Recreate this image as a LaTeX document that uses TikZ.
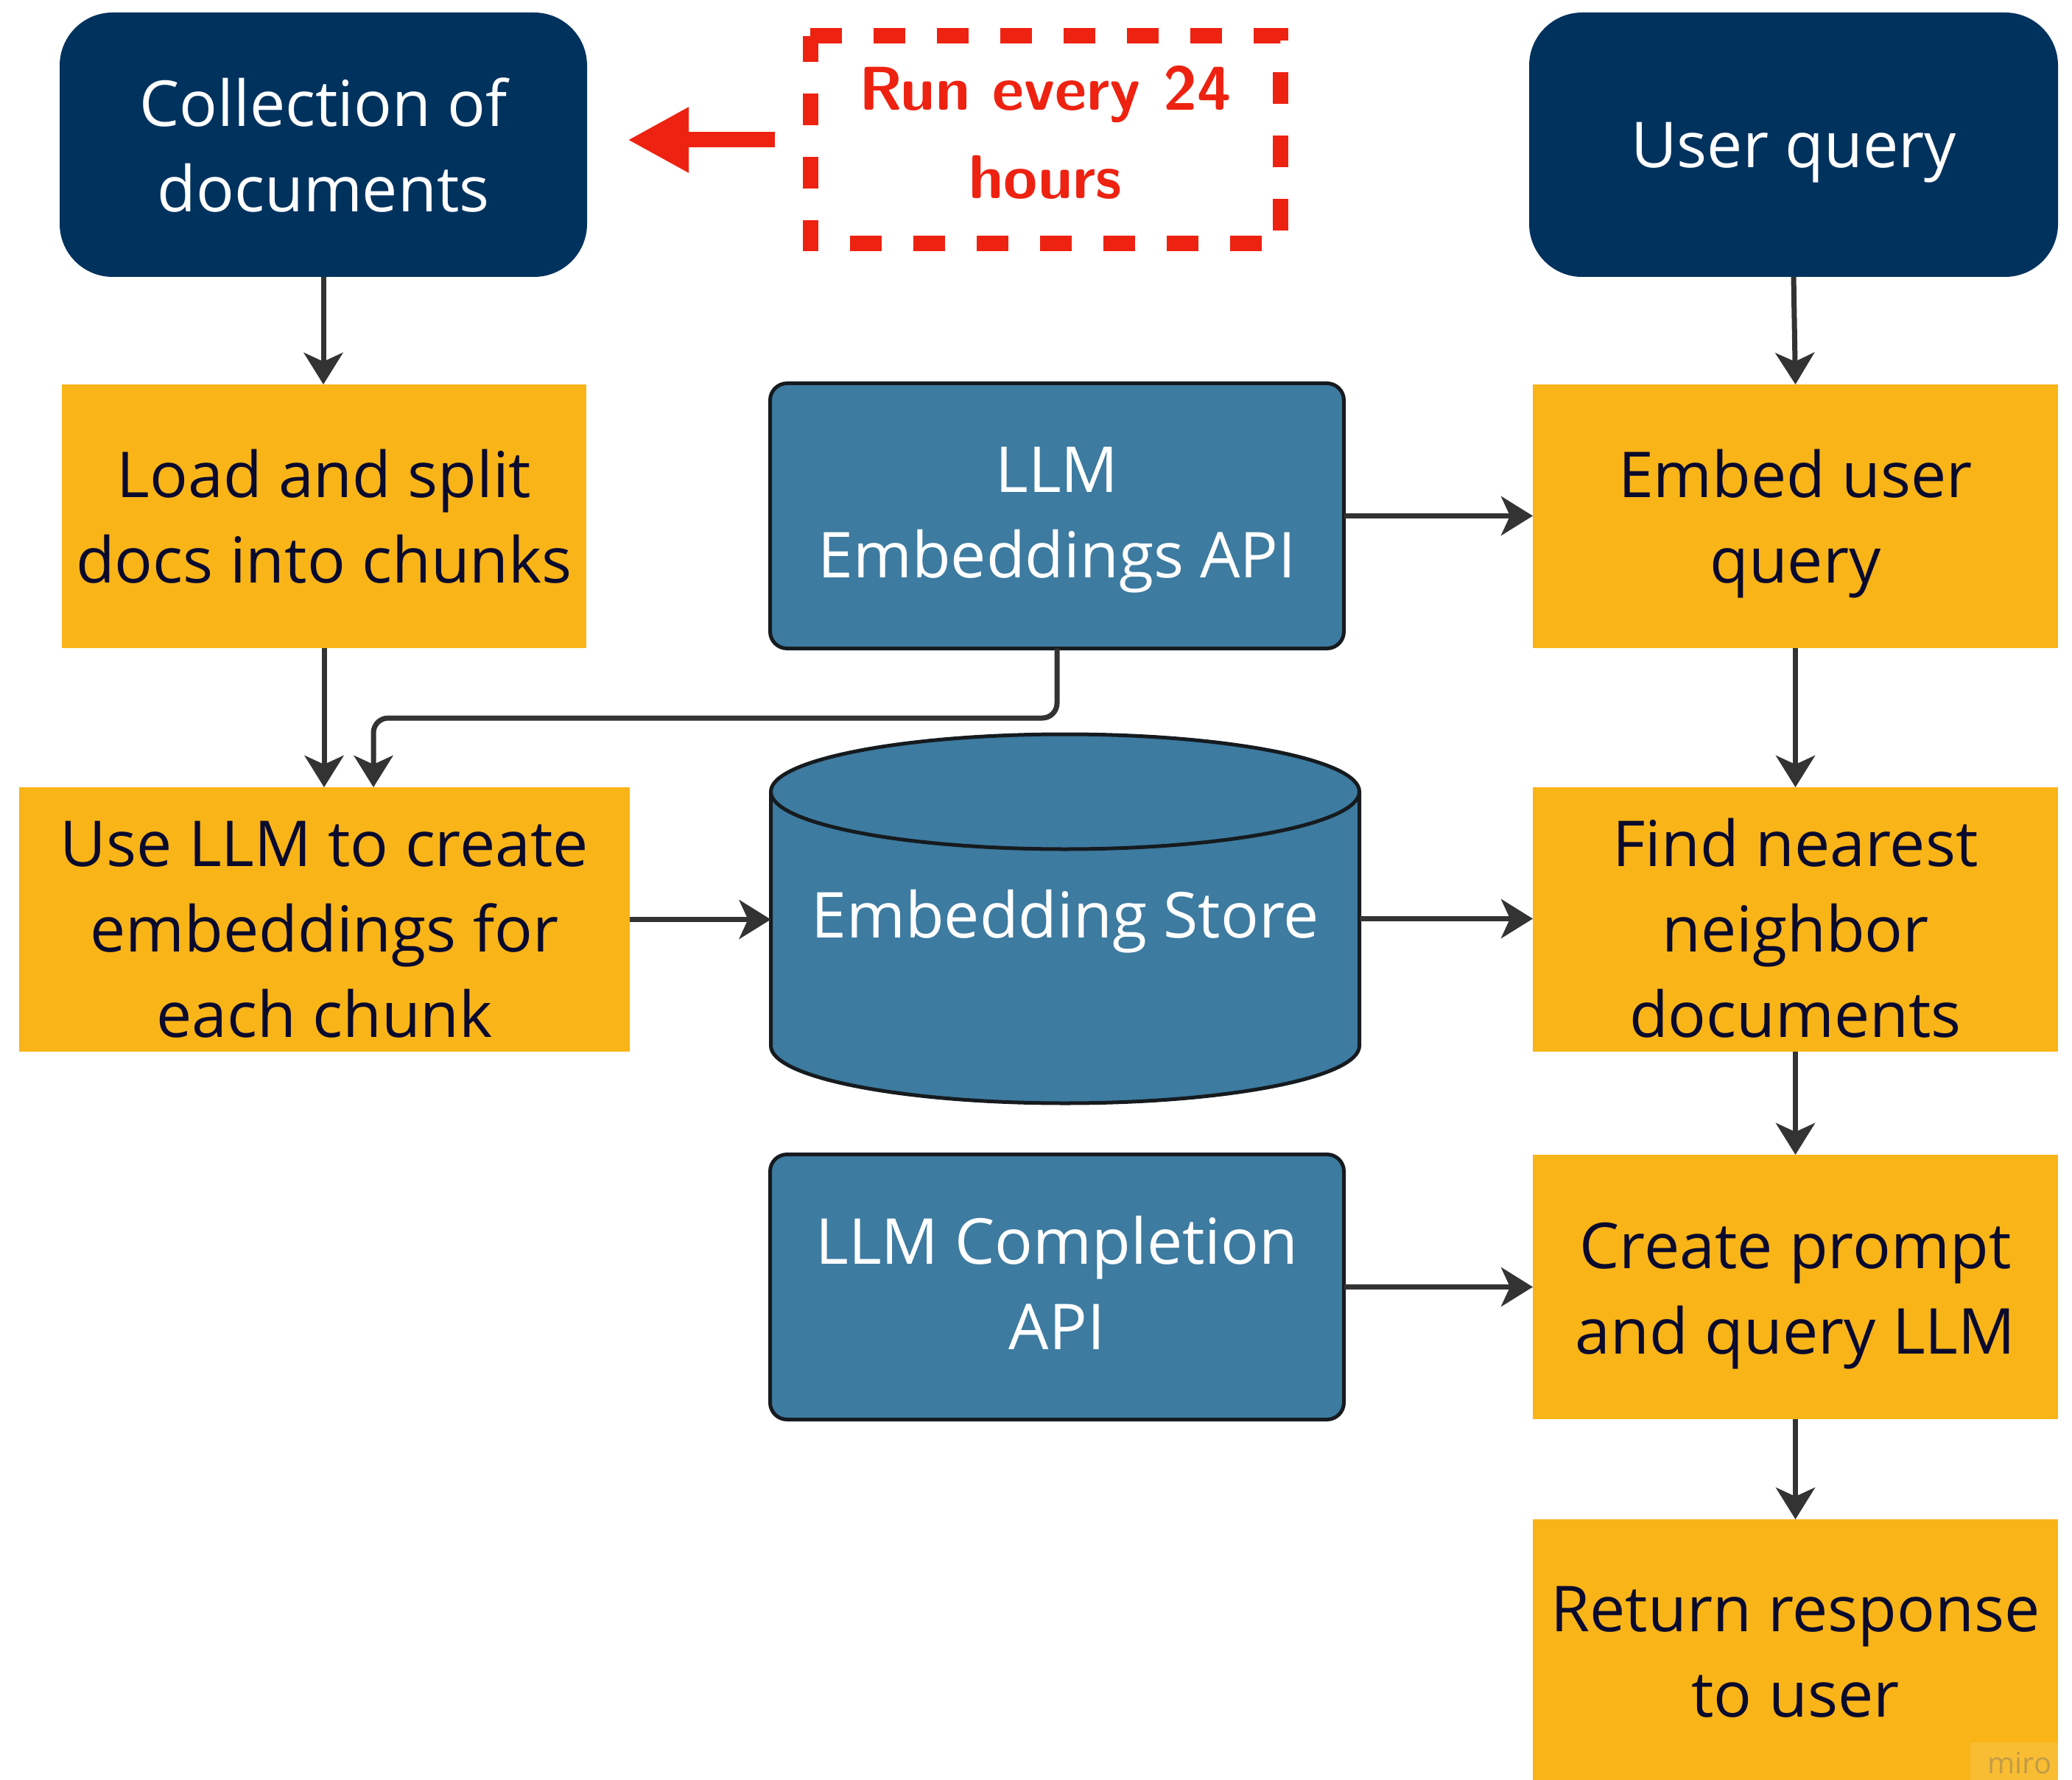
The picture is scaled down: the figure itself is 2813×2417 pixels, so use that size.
\documentclass[tikz,border=0pt]{standalone}
\usepackage{fontspec}
\setmainfont{Open Sans}
\usetikzlibrary{arrows.meta}
\definecolor{navy}{HTML}{00325E}
\definecolor{boxorange}{HTML}{F9B417}
\definecolor{steel}{HTML}{3D7BA0}
\definecolor{edgedark}{HTML}{161B1F}
\definecolor{inkdark}{HTML}{0A0A2D}
\definecolor{arrgray}{HTML}{333333}
\definecolor{runred}{HTML}{EE2211}
\newdimen\pxunit \pxunit=0.25pt
\newcommand\firstln[2]{\rule{0pt}{#1\pxunit}\smash{#2}}
\newcommand\nextln[1]{\smash{#1}}
\tikzset{
  basebox/.style={inner sep=0pt, outer sep=0pt, align=center,
    font=\fontsize{21.5pt}{29pt}\selectfont},
  navybox/.style={basebox, fill=navy, text=white, rounded corners=18pt},
  orangebox/.style={basebox, fill=boxorange, text=inkdark},
  bluebox/.style={basebox, fill=steel, draw=edgedark, line width=1.25pt,
    rounded corners=5.75pt, text=white},
  arr/.style={draw=arrgray, line width=1.75pt,
    -{Stealth[length=10.75pt, width=13.25pt, inset=3pt]}},
  redarr/.style={draw=runred, line width=5.25pt,
    -{Triangle[length=20.75pt, width=20.75pt]}},
  reddash/.style={draw=runred, line width=5.25pt, dash pattern=on 10.75pt off 10.75pt},
  cylline/.style={draw=edgedark, line width=1.25pt}
}
\begin{document}
\begin{tikzpicture}[x=0.25pt, y=-0.25pt]
\useasboundingbox[fill=white] (0,0) rectangle (2813,2417);

% cylinder body
\fill[steel] (1046.5,1075) -- (1046.5,1420) arc(180:0:399.5 and 78) -- (1845.5,1075) arc(0:-180:399.5 and 78) -- cycle;
\draw[cylline] (1046.5,1075) -- (1046.5,1420) arc(180:0:399.5 and 78) -- (1845.5,1075);
\draw[cylline] (1446,1075) ellipse (399.5 and 78);

% nodes
\node[navybox, minimum width=179pt, minimum height=89.75pt] (coll) at (439,196.5)
  {\firstln{66}{Collection of}\\\nextln{documents}};
\node[navybox, minimum width=179.5pt, minimum height=89.75pt] (uq) at (2435,196.5)
  {\firstln{63}{User query}};
\node[orangebox, minimum width=178pt, minimum height=89.5pt] (load) at (440,701)
  {\firstln{65}{Load and split}\\\nextln{docs into chunks}};
\node[bluebox, minimum width=194.75pt, minimum height=90pt] (embapi) at (1435,700.5)
  {\firstln{52}{LLM}\\\nextln{Embeddings API}};
\node[orangebox, minimum width=178.25pt, minimum height=89.5pt] (embuq) at (2437.5,701)
  {\firstln{64}{Embed user}\\\nextln{query}};
\node[orangebox, minimum width=207.25pt, minimum height=89.75pt] (use) at (440.5,1248.5)
  {\firstln{88}{Use LLM to create}\\\nextln{embeddings for}\\\nextln{each chunk}};
\node[basebox, text=white, minimum width=199.75pt, minimum height=125.25pt] (cyl) at (1446,1247.5)
  {\firstln{51}{Embedding Store}};
\node[orangebox, minimum width=178.25pt, minimum height=89.75pt] (find) at (2437.5,1248.5)
  {\firstln{88}{Find nearest}\\\nextln{neighbor}\\\nextln{documents}};
\node[bluebox, minimum width=194.75pt, minimum height=90pt] (compl) at (1435,1747.5)
  {\firstln{53}{LLM Completion}\\\nextln{API}};
\node[orangebox, minimum width=178.25pt, minimum height=89.75pt] (create) at (2437.5,1747.5)
  {\firstln{66}{Create prompt}\\\nextln{and query LLM}};
\node[orangebox, minimum width=178.25pt, minimum height=89.5pt] (ret) at (2437.5,2242)
  {\firstln{63}{Return response}\\\nextln{to user}};

% run every 24 hours
\node[inner sep=0pt, outer sep=0pt, align=center, text=runred,
  font=\fontsize{21pt}{30pt}\selectfont\sffamily\bfseries,
  minimum width=159.625pt, minimum height=70.5pt] (run) at (1419.25,190)
  {\firstln{40}{Run every 24}\\\nextln{hours}};
\draw[reddash] (run.north west) -- (run.north east) -- (run.south east) -- (run.south west) -- cycle;
\draw[redarr, shorten <=12pt, shorten >=13.75pt] (run.west) -- (run.west -| coll.east);

% connectors
\coordinate (j1) at (1435,975);
\coordinate (j2) at (507,975);
\draw[arr] (coll.south) -- (coll.south |- load.north);
\draw[arr] (uq.south) -- (embuq.north);
\draw[arr] (load.south) -- (load.south |- use.north);
\draw[arr, rounded corners=5pt] (embapi.south) -- (j1) -- (j2) -- (j2 |- use.north);
\draw[arr] (embapi.east) -- (embapi.east -| embuq.west);
\draw[arr] (use.east) -- (use.east -| cyl.west);
\draw[arr] (cyl.east) -- (cyl.east -| find.west);
\draw[arr] (embuq.south) -- (find.north);
\draw[arr] (find.south) -- (create.north);
\draw[arr] (compl.east) -- (compl.east -| create.west);
\draw[arr] (create.south) -- (ret.north);

% watermark
\fill[white, opacity=0.12] (2675,2366) rectangle (2795,2417);
\node[anchor=base, inner sep=0pt, text=boxorange!55!gray, font=\fontsize{10pt}{10pt}\selectfont] (miro) at (2742,2408) {miro};
\end{tikzpicture}
\end{document}
